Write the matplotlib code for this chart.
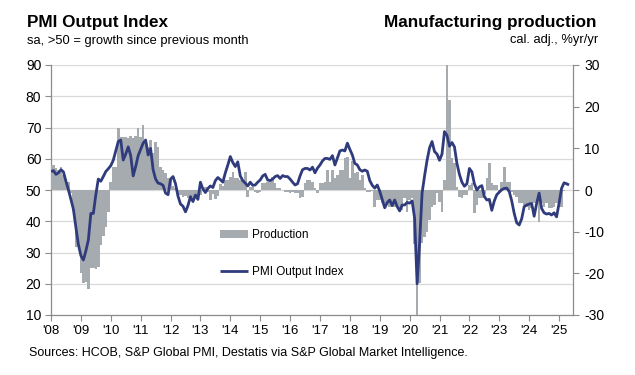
import matplotlib
matplotlib.use("Agg")
import matplotlib.pyplot as plt
import numpy as np

plt.rcParams['font.family'] = ['Liberation Sans', 'DejaVu Sans']

# ---------------- data ----------------
year_ticks = list(range(2008, 2026))
tick_labels = ["'08", "'09", "'10", "'11", "'12", "'13", "'14", "'15", "'16",
               "'17", "'18", "'19", "'20", "'21", "'22", "'23", "'24", "'25"]
left_ticks = [10, 20, 30, 40, 50, 60, 70, 80, 90]
right_ticks = [-30, -20, -10, 0, 10, 20, 30]

# PMI Output Index (monthly, Jan 2008 - May 2025)
pmi_2008 = [55.9, 56.2, 55.0, 55.5, 56.5, 55.8, 52.8, 50.0, 47.0, 43.8, 38.0, 32.5]
pmi_2009 = [29.0, 27.6, 30.5, 34.0, 42.5, 42.5, 48.5, 53.5, 52.8, 54.3, 55.9, 56.8]
pmi_2010 = [57.8, 59.5, 62.5, 65.5, 66.0, 59.6, 61.5, 63.8, 61.0, 54.5, 57.5, 61.0]
pmi_2011 = [63.0, 65.0, 66.0, 61.2, 63.3, 56.5, 53.5, 52.2, 52.0, 51.5, 49.0, 48.5]
pmi_2012 = [53.5, 54.3, 52.0, 48.0, 45.5, 44.8, 43.0, 45.0, 47.9, 46.3, 48.4, 47.0]
pmi_2013 = [52.5, 50.3, 49.2, 50.5, 51.3, 50.8, 53.0, 54.0, 53.3, 52.5, 55.5, 58.0]
pmi_2014 = [60.7, 58.8, 57.5, 59.0, 54.5, 53.0, 52.2, 51.3, 52.5, 51.5, 51.6, 52.5]
pmi_2015 = [53.2, 54.5, 55.0, 53.2, 53.0, 53.5, 54.3, 54.6, 53.7, 54.6, 54.3, 54.3]
pmi_2016 = [53.5, 52.5, 51.6, 52.0, 54.5, 56.5, 56.9, 56.9, 56.4, 57.3, 55.5, 57.0]
pmi_2017 = [58.0, 59.3, 60.1, 60.1, 59.8, 61.0, 58.0, 60.3, 62.5, 62.8, 62.5, 65.0]
pmi_2018 = [63.0, 61.2, 58.5, 58.0, 56.5, 56.0, 56.4, 56.0, 53.0, 51.5, 50.6, 51.6]
pmi_2019 = [49.6, 47.0, 44.3, 46.0, 46.8, 45.0, 46.8, 44.7, 43.3, 45.2, 45.2, 46.0]
pmi_2020 = [45.8, 46.5, 41.0, 20.0, 33.0, 49.0, 54.5, 59.5, 63.5, 65.5, 62.3, 61.5]
pmi_2021 = [59.5, 61.5, 68.7, 67.5, 64.0, 65.2, 63.8, 58.5, 55.0, 52.5, 51.2, 52.0]
pmi_2022 = [56.9, 55.8, 52.0, 50.0, 51.0, 51.4, 47.9, 46.8, 47.0, 43.5, 46.5, 48.5]
pmi_2023 = [49.3, 50.1, 50.5, 50.6, 49.5, 46.5, 42.5, 39.5, 38.8, 40.8, 44.7, 45.2]
pmi_2024 = [45.5, 45.7, 41.6, 45.7, 49.0, 44.1, 42.7, 42.3, 42.5, 42.0, 42.7, 41.4]
pmi_2025 = [45.7, 50.5, 52.3, 52.0, 51.6]

# Manufacturing production, % yr/yr (monthly, Jan 2008 - Mar 2025)
prod_2008 = [6.0, 6.0, 5.2, 4.8, 5.5, 3.6, 2.0, 2.0, -0.8, -5.0, -13.6, -13.6]
prod_2009 = [-20.0, -22.4, -22.0, -23.8, -18.8, -18.8, -19.0, -18.5, -13.2, -11.0, -8.8, -5.2]
prod_2010 = [2.0, 5.6, 5.6, 14.8, 12.7, 12.7, 12.7, 12.5, 13.0, 12.5, 13.0, 15.0]
prod_2011 = [12.7, 15.6, 12.0, 10.4, 12.0, 9.0, 11.6, 10.4, 5.6, 4.8, 4.0, 3.0]
prod_2012 = [2.4, 1.0, 0.5, -1.2, -1.2, -1.6, -1.5, -1.8, -2.0, -1.6, -1.8, -1.2]
prod_2013 = [-1.2, 0.5, 0.8, -0.5, -2.4, -1.0, -2.2, -1.5, 1.5, 1.0, 2.4, 2.4]
prod_2014 = [3.2, 4.4, 2.8, 2.8, 2.4, 2.4, 4.4, -1.6, 0.8, 0.8, -0.4, -0.8]
prod_2015 = [-0.4, 1.6, 1.6, 2.0, 2.0, 3.2, 1.6, 0.4, 0.4, 0.0, -0.4, -0.4]
prod_2016 = [-0.8, -0.4, -0.8, -0.8, -2.0, -1.6, 1.6, 2.4, 2.4, 2.0, 0.4, -0.6]
prod_2017 = [1.6, 1.6, 2.0, 4.8, 2.0, 4.8, 3.0, 3.6, 4.8, 4.8, 7.6, 8.0]
prod_2018 = [2.8, 7.0, 4.0, 4.4, 2.4, 3.6, 0.4, -0.4, -0.4, -0.2, -4.0, -2.4]
prod_2019 = [-2.4, -3.2, -3.2, -3.6, -4.0, -4.0, -4.0, -4.0, -4.4, -4.8, -2.0, -5.2]
prod_2020 = [-2.4, -2.0, -13.0, -31.0, -22.4, -12.8, -11.2, -10.0, -7.2, -4.0, -3.5, -0.8]
prod_2021 = [-2.8, -5.2, 2.4, 31.0, 21.6, 7.6, 6.4, 0.8, -1.6, -2.0, -1.2, -1.2]
prod_2022 = [1.2, 1.6, -5.6, -3.6, -2.0, -2.0, -1.0, 3.0, 6.4, 1.6, 1.2, 1.2]
prod_2023 = [-0.5, 2.0, 5.5, 2.0, 2.0, -0.4, -1.2, -1.6, -3.2, -3.2, -3.6, -4.0]
prod_2024 = [-4.8, -4.4, -3.2, -3.0, -7.6, -3.2, -4.0, -3.0, -4.4, -4.4, -4.0, -3.2]
prod_2025 = [-3.6, -4.0, -0.3]

pmi_output = (pmi_2008 + pmi_2009 + pmi_2010 + pmi_2011 + pmi_2012 + pmi_2013 +
              pmi_2014 + pmi_2015 + pmi_2016 + pmi_2017 + pmi_2018 + pmi_2019 +
              pmi_2020 + pmi_2021 + pmi_2022 + pmi_2023 + pmi_2024 + pmi_2025)
production = (prod_2008 + prod_2009 + prod_2010 + prod_2011 + prod_2012 + prod_2013 +
              prod_2014 + prod_2015 + prod_2016 + prod_2017 + prod_2018 + prod_2019 +
              prod_2020 + prod_2021 + prod_2022 + prod_2023 + prod_2024 + prod_2025)

x_pmi = 2008 + np.arange(len(pmi_output)) / 12.0
x_prod = 2008 + np.arange(len(production)) / 12.0

# ---------------- style ----------------
LINE = '#2f3b7c'
BAR = '#a6abb0'
GRID = '#d9d9d9'
SPINE = '#8c8c8c'
TXT = '#000000'

fig = plt.figure(figsize=(6.35, 3.75), dpi=100)
ax = fig.add_axes([51 / 635, 60 / 375, 522 / 635, 250 / 375])
ax2 = ax.twinx()
ax3 = ax.twinx()

# base axis: grid + left ticks
ax.set_xlim(2008, 2008 + 209.6 / 12)
ax.set_ylim(10, 90)
ax.set_yticks(left_ticks)
ax.yaxis.grid(True, color=GRID, lw=0.9)
ax.set_axisbelow(True)
ax.set_xticks(year_ticks)
ax.set_xticklabels(tick_labels)
for s in ['top', 'right']:
    ax.spines[s].set_visible(False)
for s in ['left', 'bottom']:
    ax.spines[s].set_color(SPINE)
    ax.spines[s].set_linewidth(0.9)
ax.tick_params(axis='y', direction='out', length=4, width=0.8, color=SPINE,
               labelsize=10, pad=3, labelcolor=TXT)
ax.tick_params(axis='x', direction='out', length=4, width=0.8, color=SPINE,
               labelsize=9.5, pad=3, labelcolor=TXT)

# production bars (right axis)
bars = ax2.bar(x_prod, production, width=1 / 12 + 0.002, color=BAR, linewidth=0,
               label='Production')
ax2.set_ylim(-30, 30)
ax2.set_yticks(right_ticks)
ax2.set_yticklabels([str(t) for t in right_ticks])
for s in ['top', 'left', 'bottom']:
    ax2.spines[s].set_visible(False)
ax2.spines['right'].set_color(SPINE)
ax2.spines['right'].set_linewidth(0.9)
ax2.tick_params(axis='y', direction='out', length=4, width=0.8, color=SPINE,
                labelsize=10, pad=4, labelcolor=TXT)

# PMI line (top layer)
line, = ax3.plot(x_pmi, pmi_output, color=LINE, lw=2.0, label='PMI Output Index',
                 solid_joinstyle='round', solid_capstyle='butt')
ax3.set_ylim(10, 90)
ax3.yaxis.set_visible(False)
for s in ax3.spines.values():
    s.set_visible(False)

leg = ax3.legend([bars, line], ['Production', 'PMI Output Index'],
                 loc='center left', bbox_to_anchor=(0.324, 0.246),
                 frameon=False, fontsize=8.5, labelspacing=2.05,
                 handlelength=2.4, handleheight=0.6, handletextpad=0.3,
                 borderpad=0, borderaxespad=0)

# titles
fig.text(27 / 635, 1 - 27 / 375, 'PMI Output Index', fontsize=12.3,
         fontweight='bold', ha='left', va='baseline', color=TXT)
fig.text(27 / 635, 1 - 44 / 375, 'sa, >50 = growth since previous month',
         fontsize=9.3, ha='left', va='baseline', color=TXT)
fig.text(597 / 635, 1 - 27 / 375, 'Manufacturing production', fontsize=12.3,
         fontweight='bold', ha='right', va='baseline', color=TXT)
fig.text(598 / 635, 1 - 43 / 375, 'cal. adj., %yr/yr',
         fontsize=9.3, ha='right', va='baseline', color=TXT)
fig.text(29 / 635, 1 - 356 / 375,
         'Sources: HCOB, S&P Global PMI, Destatis via S&P Global Market Intelligence.',
         fontsize=9, ha='left', va='baseline', color=TXT)

fig.savefig('out.png', dpi=100)
